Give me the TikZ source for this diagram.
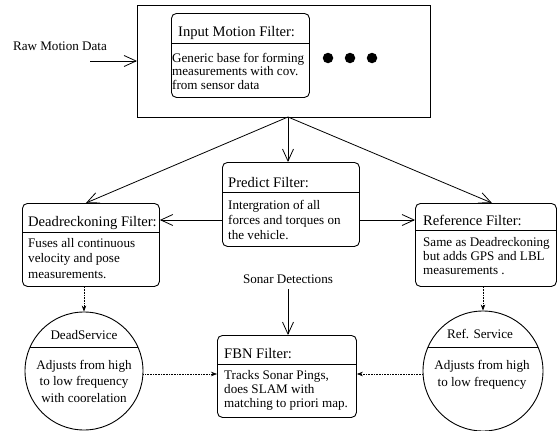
\documentclass[tikz,border=0pt]{standalone}
\usepackage{fontspec}
\setmainfont{Liberation Serif}
\usetikzlibrary{arrows.meta}
\begin{document}
\begin{tikzpicture}[x=1pt,y=-1pt,
  box/.style={draw, line width=0.9pt, rounded corners=5pt, inner sep=0pt, anchor=north west},
  outerbox/.style={draw, line width=1pt, inner sep=0pt, anchor=north west},
  circ/.style={draw, circle, line width=0.9pt, inner sep=0pt},
  divider/.style={line width=0.9pt},
  title/.style={font=\fontsize{14.6}{17}\selectfont, inner sep=0pt, anchor=base west},
  body/.style={font=\fontsize{13.1}{#1}\selectfont, align=left, inner sep=0pt, anchor=base west},
  body/.default=14.5,
  cbody/.style={font=\fontsize{13.1}{#1}\selectfont, align=center, inner sep=0pt, anchor=base},
  cbody/.default=16,
  label/.style={font=\fontsize{13.1}{15}\selectfont, inner sep=0pt, anchor=base},
  arr/.style={line width=0.8pt, -{Straight Barb[length=12pt,width=11pt,line width=0.8pt]}},
  darr/.style={line width=0.6pt, densely dotted, -{Stealth[length=6pt,width=4.5pt]}},
  dot/.style={circle, fill=black, inner sep=0pt, minimum size=10.5pt}
]
\useasboundingbox (0,0) rectangle (558,431);

% outer box with input filter
\node[outerbox, minimum width=293pt, minimum height=112pt] (outer) at (137,5) {};
\node[box, minimum width=138pt, minimum height=84pt] (input) at (171,13) {};
\draw[divider] ([yshift=-30pt]input.north west) -- ([yshift=-30pt]input.north east);
\node[title] (inputT) at (178,37) {Input Motion Filter:};
\node[body=13.5] (inputB) at (172,89) {Generic base for forming\\measurements with cov.\\from sensor data};
\node[dot] (d1) at (328,58) {};
\node[dot] (d2) at (350,58) {};
\node[dot] (d3) at (372,58) {};

% raw motion data
\node[label] (raw) at (60,50) {Raw Motion Data};
\coordinate (rawstart) at (90,61);
\draw[arr] (rawstart) -- (rawstart -| outer.west);

% predict filter
\node[box, minimum width=137pt, minimum height=84pt] (predict) at (222,162) {};
\draw[divider] ([yshift=-30pt]predict.north west) -- ([yshift=-30pt]predict.north east);
\node[title] (predictT) at (228,187) {Predict Filter:};
\node[body=15] (predictB) at (228,239) {Intergration of all\\forces and torques on\\the vehicle.};

% deadreckoning filter
\node[box, minimum width=137pt, minimum height=83pt] (dead) at (22,203) {};
\draw[divider] ([yshift=-29pt]dead.north west) -- ([yshift=-29pt]dead.north east);
\node[title] (deadT) at (28,226) {Deadreckoning Filter:};
\node[body=15.5] (deadB) at (28,278) {Fuses all continuous\\velocity and pose\\measurements.};

% reference filter
\node[box, minimum width=141pt, minimum height=83pt] (ref) at (415,203) {};
\draw[divider] ([yshift=-27pt]ref.north west) -- ([yshift=-27pt]ref.north east);
\node[title] (refT) at (423,225) {Reference Filter:};
\node[body=14] (refB) at (423,274) {Same as Deadreckoning\\but adds GPS and LBL\\measurements .};

% FBN filter
\node[box, minimum width=139pt, minimum height=82pt] (fbn) at (217,335) {};
\draw[divider] ([yshift=-29pt]fbn.north west) -- ([yshift=-29pt]fbn.north east);
\node[title] (fbnT) at (224,358) {FBN Filter:};
\node[body=14] (fbnB) at (224,407) {Tracks Sonar Pings,\\does SLAM with\\matching to priori map.};

% sonar detections
\node[label] (sonar) at (288,283) {Sonar Detections};
\coordinate (sonarstart) at (288,289);
\draw[arr] (sonarstart) -- (sonarstart |- fbn.north);

% services
\node[circ, minimum size=118pt] (deadS) at (84,371) {};
\draw[divider] (30.1,347) -- (137.9,347);
\node[label] (deadST) at (84,339) {DeadService};
\node[cbody=16.5] (deadSB) at (84,402) {Adjusts from high\\to low frequency\\with coorelation};

\node[circ, minimum size=120pt] (refS) at (483,371) {};
\draw[divider] (428,347) -- (538,347);
\node[label] (refST) at (480,338) {Ref. Service};
\node[cbody=17] (refSB) at (482,386) {Adjusts from high\\to low frequency};

% solid connectors
\coordinate (src) at (288,117);
\draw[arr] (src) -- (src |- predict.north);
\draw[arr] (src) -- ([xshift=-5pt]dead.north);
\draw[arr] (src) -- ([xshift=6pt]ref.north);
\coordinate (hline) at (0,220);
\draw[arr] (predict.west |- hline) -- (dead.east |- hline);
\draw[arr] (predict.east |- hline) -- (ref.west |- hline);

% dotted connectors
\draw[darr] (deadS.north |- dead.south) -- (deadS.north);
\draw[darr] (refS.north |- ref.south) -- (refS.north);
\coordinate (hdot) at (0,374);
\draw[darr] (deadS.east |- hdot) -- (fbn.west |- hdot);
\draw[darr] (refS.west |- hdot) -- (fbn.east |- hdot);
\end{tikzpicture}
\end{document}
